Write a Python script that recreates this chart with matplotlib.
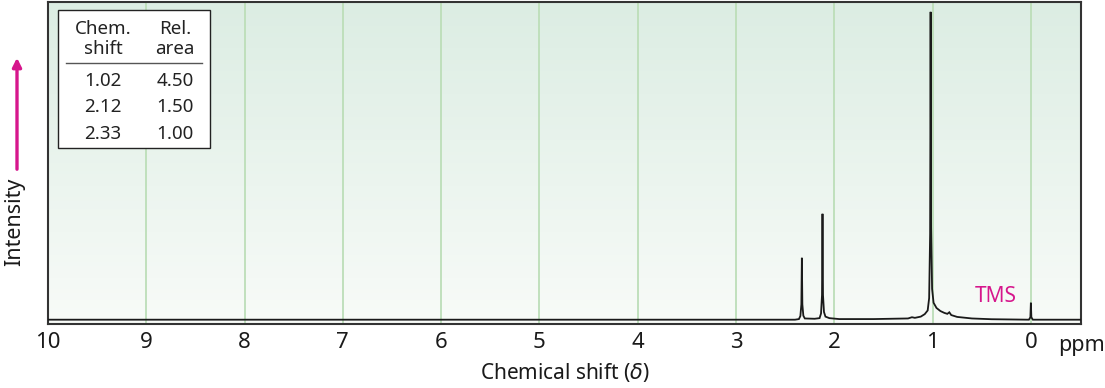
import numpy as np
import matplotlib
matplotlib.use("Agg")
import matplotlib.pyplot as plt
from matplotlib.patches import Rectangle, FancyArrowPatch
from matplotlib.colors import LinearSegmentedColormap

plt.rcParams['font.family'] = ['Noto Sans', 'DejaVu Sans']

# ---- data ----
tick_values = [10, 9, 8, 7, 6, 5, 4, 3, 2, 1, 0]
tick_labels = ["10", "9", "8", "7", "6", "5", "4", "3", "2", "1", "0"]

trace_ppm = [10.0, 5.53, 2.40, 2.36, 2.345, 2.335, 2.33, 2.325, 2.315, 2.30, 2.20,
             2.15, 2.135, 2.125, 2.12, 2.115, 2.105, 2.09, 2.05, 1.95, 1.60, 1.25,
             1.21, 1.18, 1.12, 1.08, 1.05, 1.035, 1.025, 1.02, 1.015, 1.005, 0.99,
             0.96, 0.92, 0.88, 0.85, 0.83, 0.81, 0.75, 0.60, 0.40, 0.02, 0.005,
             0.0, -0.005, -0.02, -0.52]
trace_int = [0.0, 0.0, 0.0, 0.2, 1.2, 5.0, 20.1, 5.0, 1.3, 0.4, 0.3,
             0.5, 2.0, 8.0, 34.4, 8.0, 2.5, 1.0, 0.5, 0.2, 0.2, 0.4,
             0.8, 0.6, 1.0, 1.8, 3.0, 7.0, 28.0, 100.0, 30.0, 10.0, 5.5,
             3.8, 2.8, 2.2, 1.9, 2.4, 1.5, 0.9, 0.4, 0.15, 0.0, 0.8,
             5.5, 0.8, 0.0, 0.0]

table_shift = ["1.02", "2.12", "2.33"]
table_area = ["4.50", "1.50", "1.00"]

W, H = 1105, 388
fig = plt.figure(figsize=(W / 100, H / 100), dpi=100)

def fx(px):
    return px / W

def fy(py):
    return 1 - py / H

ax_l, ax_r, ax_t, ax_b = 48, 1081, 2, 324
ax = fig.add_axes([fx(ax_l), fy(ax_b), fx(ax_r - ax_l), (ax_b - ax_t) / H])

xmin, xmax = 10.0, -0.51
ymin, ymax = -1.4, 103.2
ax.set_xlim(xmin, xmax)
ax.set_ylim(ymin, ymax)

# gradient background
cmap = LinearSegmentedColormap.from_list("bg", ["#f8fbf8", "#dcede3"])
grad = np.linspace(0, 1, 256).reshape(-1, 1)
ax.imshow(grad, cmap=cmap, aspect="auto", origin="lower",
          extent=[xmin, xmax, ymin, ymax], zorder=0)

for v in tick_values[1:]:
    ax.axvline(v, color="#bcdeb8", lw=1.3, zorder=1)

ax.plot(trace_ppm, trace_int, color="#1a1a1a", lw=1.3, zorder=3,
        solid_joinstyle="miter")

ax.set_xticks(tick_values)
ax.set_xticklabels(tick_labels, fontsize=16, color="#1a1a1a")
ax.tick_params(axis="x", length=0, pad=6)
ax.set_yticks([])
for name, sp in ax.spines.items():
    sp.set_color("#333333")
    sp.set_linewidth(1.5)

ax.text(0.57, 4.2, "TMS", color="#d6168c", fontsize=15, ha="left", va="bottom")

fig.text(fx(1058), fy(346), "ppm", fontsize=15.5, color="#1a1a1a",
         ha="left", va="center")
fig.text(fx(565), fy(372), r"Chemical shift ($\delta$)", fontsize=15,
         color="#1a1a1a", ha="center", va="center")

# Intensity label and arrow
fig.text(fx(15), fy(222), "Intensity", rotation=90, fontsize=15.5,
         color="#1a1a1a", ha="center", va="center")
arr = FancyArrowPatch((fx(17), fy(172)), (fx(17), fy(55)),
                      transform=fig.transFigure, arrowstyle="-|>",
                      mutation_scale=13, color="#d6168c", lw=2.4, zorder=5)
fig.patches.append(arr)

# Table
box = Rectangle((fx(58), fy(148)), fx(210 - 58), (148 - 10) / H,
                transform=fig.transFigure, facecolor="white",
                edgecolor="#222222", lw=1.0, zorder=4)
fig.patches.append(box)
fig.lines.append(plt.Line2D([fx(66), fx(202)], [fy(63), fy(63)],
                            transform=fig.transFigure, color="#555555",
                            lw=1.0, zorder=5))
c1, c2 = 103, 175
tkw = dict(fontsize=13.5, color="#222222", ha="center", va="center", zorder=6)
fig.text(fx(c1), fy(29), "Chem.", **tkw)
fig.text(fx(c1), fy(49), "shift", **tkw)
fig.text(fx(c2), fy(29), "Rel.", **tkw)
fig.text(fx(c2), fy(49), "area", **tkw)
rows_y = [81, 107, 134]
for s, a, yy in zip(table_shift, table_area, rows_y):
    fig.text(fx(c1), fy(yy), s, **tkw)
    fig.text(fx(c2), fy(yy), a, **tkw)

fig.savefig("out.png", dpi=100)
